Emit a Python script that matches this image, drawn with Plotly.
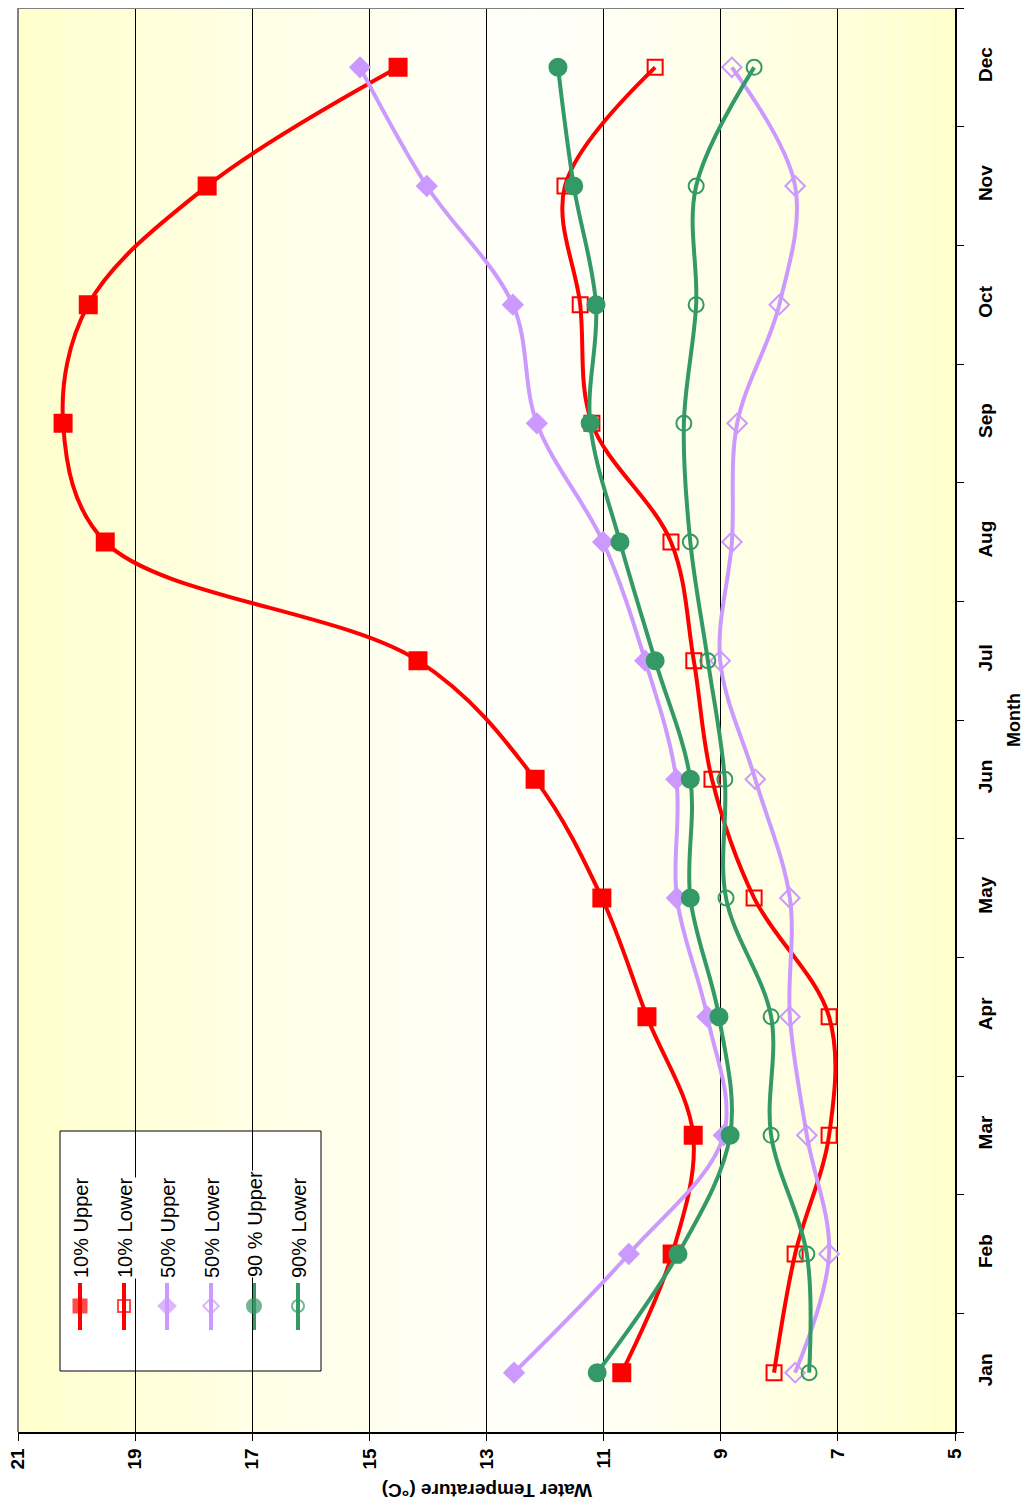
import plotly.graph_objects as go

months = ["Jan", "Feb", "Mar", "Apr", "May", "Jun", "Jul", "Aug", "Sep", "Oct", "Nov", "Dec"]
upper10 = [10.69, 9.83, 9.47, 10.26, 11.03, 12.17, 14.17, 19.51, 20.23, 19.80, 17.77, 14.51]
lower10 = [8.09, 7.73, 7.15, 7.15, 8.43, 9.15, 9.46, 9.85, 11.20, 11.40, 11.66, 10.12]
upper50 = [12.53, 10.57, 8.95, 9.23, 9.75, 9.76, 10.29, 11.01, 12.14, 12.55, 14.02, 15.16]
lower50 = [7.73, 7.15, 7.53, 7.82, 7.82, 8.41, 9.01, 8.81, 8.72, 8.00, 7.73, 8.81]
upper90 = [11.11, 9.73, 8.84, 9.03, 9.52, 9.52, 10.12, 10.72, 11.23, 11.13, 11.51, 11.78]
lower90 = [7.49, 7.53, 8.14, 8.14, 8.91, 8.93, 9.22, 9.52, 9.63, 9.42, 9.42, 8.43]
temp_ticks = [21, 19, 17, 15, 13, 11, 9, 7, 5]

RED = "#FF0000"
PURPLE = "#CC99FF"
GREEN = "#339966"
FONT = "Liberation Sans, Arial, sans-serif"

series = [
    ("10% Upper", upper10, RED, "square", 17, True),
    ("10% Lower", lower10, RED, "square-open", 15, False),
    ("50% Upper", upper50, PURPLE, "diamond", 15, True),
    ("50% Lower", lower50, PURPLE, "diamond-open", 15, False),
    ("90 % Upper", upper90, GREEN, "circle", 17, True),
    ("90% Lower", lower90, GREEN, "circle-open", 15, False),
]

fig = go.Figure()

for name, vals, col, sym, sz, filled in series:
    fig.add_trace(go.Scatter(
        x=vals, y=months, mode="lines+markers", name=name,
        line=dict(color=col, width=4, shape="spline", smoothing=1.0),
        marker=dict(symbol=sym, size=sz, color=col,
                    line=dict(color=col, width=2)),
        showlegend=False, cliponaxis=False,
    ))

# page offset (body margin) compensation
OFF = 8
W, H = 1034 - 2 * OFF, 1508 - 2 * OFF
# plot area in screen pixels
L, R, T, B = 18, 955, 8, 1432
def px(x):
    return (x - L) / (R - L)
def py(y):
    return (B - y) / (B - T)

shapes = []
# background gradient (yellow at edges, white near 12-13)
N = 80
lo, hi = 5.0, 21.0
for i in range(N):
    a = hi - (hi - lo) * i / N
    b = hi - (hi - lo) * (i + 1) / N
    f = (i + 0.5) / N
    c = 0.55
    t = (c - f) / c if f < c else (f - c) / (1 - c)
    t = max(0.0, min(1.0, t))
    t = t ** 1.2
    bl = round(250 - (250 - 204) * t)
    shapes.append(dict(type="rect", xref="x", yref="paper", x0=a, x1=b, y0=0, y1=1,
                       fillcolor=f"rgb(255,255,{bl})", line=dict(width=0), layer="below"))
# gray top/left border
shapes.append(dict(type="line", xref="paper", yref="paper", x0=0, x1=1, y0=1, y1=1,
                   line=dict(color="#808080", width=2), layer="above"))
shapes.append(dict(type="line", xref="paper", yref="paper", x0=0, x1=0, y0=0, y1=1,
                   line=dict(color="#808080", width=2), layer="above"))

# legend box
lx0, lx1, ly0, ly1 = 60, 321, 1131, 1371
shapes.append(dict(type="rect", xref="paper", yref="paper", x0=px(lx0), x1=px(lx1),
                   y0=py(ly1), y1=py(ly0), fillcolor="white",
                   line=dict(color="black", width=1), layer="between"))
leg_x = [80, 124, 167, 211, 254, 298]
leg_center_y = [1228, 1228, 1228, 1228, 1224, 1228]
annotations = []
for (name, vals, col, sym, sz, filled), x, yc in zip(series, leg_x, leg_center_y):
    shapes.append(dict(type="line", xref="paper", yref="paper", x0=px(x), x1=px(x),
                       y0=py(1283), y1=py(1330), line=dict(color=col, width=4),
                       layer="between"))
    annotations.append(dict(text=name, xref="paper", yref="paper", x=px(x + 1), y=py(yc),
                            xanchor="center", yanchor="middle", textangle=-90, showarrow=False,
                            bgcolor="white", borderpad=0,
                            font=dict(family=FONT, size=20, color="black")))

# legend key markers on overlay paper-like axes
fig.add_trace(go.Scatter(
    x=[px(x) for x in leg_x], y=[py(1306)] * 6, mode="markers",
    marker=dict(symbol=[s[3] for s in series], size=[13, 12, 13, 12, 14, 12],
                color=[s[2] for s in series],
                line=dict(color=[s[2] for s in series], width=2)),
    xaxis="x2", yaxis="y2", showlegend=False, hoverinfo="skip", cliponaxis=False,
))

annotations.append(dict(text="<b>Water Temperature (°C)</b>", xref="paper", yref="paper",
                        x=px(487), y=py(1490), xanchor="center", yanchor="middle",
                        textangle=180, showarrow=False,
                        font=dict(family=FONT, size=19, color="black")))
annotations.append(dict(text="<b>Month</b>", xref="paper", yref="paper",
                        x=px(1014), y=py(720), xanchor="center", yanchor="middle",
                        textangle=-90, showarrow=False,
                        font=dict(family=FONT, size=18, color="black")))

fig.update_layout(
    width=W, height=H,
    margin=dict(l=L - OFF, r=W - (R - OFF), t=0, b=H - (B - OFF)),
    paper_bgcolor="white", plot_bgcolor="white",
    shapes=shapes, annotations=annotations,
    showlegend=False,
    xaxis=dict(range=[21, 5], tickvals=temp_ticks,
               ticktext=[f"<b>{v}</b>" for v in temp_ticks],
               tickangle=-90, tickfont=dict(family=FONT, size=19, color="black"),
               ticklabeloverflow="allow",
               showgrid=True, gridcolor="black", gridwidth=1,
               showline=True, linecolor="black", linewidth=1.5,
               ticks="outside", ticklen=7, tickcolor="black", zeroline=False),
    yaxis=dict(type="category", categoryorder="array", categoryarray=months,
               range=[-0.5, 11.5], side="right",
               tickvals=months, ticktext=[f"<b>{m}</b>" for m in months],
               tickangle=-90, tickfont=dict(family=FONT, size=19, color="black"),
               ticklabeloverflow="allow",
               tickson="boundaries", ticks="outside", ticklen=7, tickcolor="black",
               ticklabelstandoff=12,
               showgrid=False, showline=True, linecolor="black", linewidth=1.5,
               zeroline=False),
    xaxis2=dict(overlaying="x", range=[0, 1], visible=False, fixedrange=True),
    yaxis2=dict(overlaying="y", range=[0, 1], visible=False, fixedrange=True),
)

fig.write_html("out.html")
